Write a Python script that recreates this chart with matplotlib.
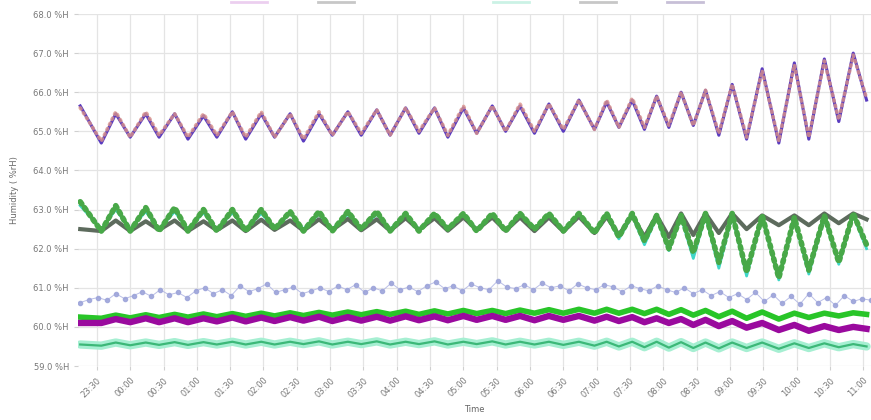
import numpy as np
import pandas as pd
import matplotlib
matplotlib.use("Agg")
import matplotlib.pyplot as plt
from matplotlib.lines import Line2D

# turning points of the daily ventilation cycle, minutes after 23:30
t_key = [-15, 4, 17, 30, 44, 56, 70, 82, 96, 108, 122, 134, 148, 160, 174, 186, 200,
         212, 226, 238, 252, 264, 278, 290, 304, 316, 330, 342, 356, 368, 381, 394, 407,
         420, 434, 448, 459, 470, 482, 493, 504, 515, 526, 537, 548, 560, 572, 585, 599,
         614, 628, 641, 655, 668, 681, 693]

top_line = [65.65, 64.70, 65.45, 64.85, 65.45, 64.85, 65.45, 64.80, 65.40, 64.85, 65.50,
            64.80, 65.45, 64.85, 65.45, 64.75, 65.45, 64.90, 65.50, 64.90, 65.55, 64.90,
            65.60, 64.95, 65.60, 64.85, 65.60, 64.95, 65.65, 65.00, 65.65, 64.95, 65.70,
            65.00, 65.80, 65.05, 65.75, 65.10, 65.80, 65.05, 65.90, 65.10, 66.00, 65.15,
            66.05, 64.90, 66.20, 64.80, 66.60, 64.70, 66.75, 64.80, 66.85, 65.25, 67.00, 65.80]
top_dots = [65.60, 64.75, 65.50, 64.85, 65.50, 64.90, 65.45, 64.85, 65.45, 64.90, 65.50,
            64.85, 65.50, 64.85, 65.45, 64.80, 65.50, 64.90, 65.50, 64.95, 65.55, 64.90,
            65.60, 65.00, 65.60, 64.90, 65.65, 64.95, 65.65, 65.00, 65.70, 65.00, 65.70,
            65.05, 65.80, 65.05, 65.80, 65.10, 65.85, 65.10, 65.90, 65.15, 66.00, 65.15,
            66.05, 64.95, 66.20, 64.85, 66.55, 64.75, 66.70, 64.85, 66.80, 65.30, 66.95, 65.85]

mid_gray = [62.50, 62.45, 62.72, 62.45, 62.70, 62.48, 62.72, 62.45, 62.70, 62.47, 62.72,
            62.45, 62.74, 62.48, 62.72, 62.46, 62.75, 62.48, 62.76, 62.47, 62.75, 62.46,
            62.78, 62.48, 62.78, 62.46, 62.80, 62.48, 62.80, 62.46, 62.80, 62.45, 62.80,
            62.44, 62.82, 62.40, 62.82, 62.35, 62.85, 62.30, 62.85, 62.30, 62.90, 62.35,
            62.90, 62.40, 62.90, 62.50, 62.85, 62.60, 62.85, 62.60, 62.90, 62.65, 62.90, 62.75]
mid_green = [63.20, 62.45, 63.10, 62.45, 63.05, 62.45, 63.05, 62.45, 63.00, 62.45, 63.00,
             62.45, 63.00, 62.50, 62.95, 62.45, 62.95, 62.45, 62.95, 62.50, 62.95, 62.45,
             62.90, 62.45, 62.90, 62.50, 62.90, 62.45, 62.90, 62.45, 62.90, 62.50, 62.90,
             62.45, 62.90, 62.40, 62.90, 62.30, 62.90, 62.20, 62.85, 62.00, 62.85, 61.90,
             62.90, 61.65, 62.90, 61.40, 62.85, 61.25, 62.80, 61.45, 62.85, 61.65, 62.90, 62.10]
mid_teal = [63.10, 62.50, 63.00, 62.50, 62.95, 62.50, 62.95, 62.50, 62.92, 62.50, 62.92,
            62.50, 62.90, 62.52, 62.90, 62.50, 62.88, 62.50, 62.88, 62.52, 62.88, 62.50,
            62.85, 62.50, 62.85, 62.50, 62.85, 62.50, 62.85, 62.48, 62.85, 62.50, 62.85,
            62.48, 62.85, 62.40, 62.85, 62.25, 62.85, 62.10, 62.80, 61.95, 62.80, 61.75,
            62.85, 61.50, 62.85, 61.30, 62.80, 61.20, 62.75, 61.35, 62.80, 61.60, 62.85, 62.00]

magenta = [60.10, 60.10, 60.20, 60.12, 60.22, 60.12, 60.22, 60.12, 60.22, 60.14, 60.24,
           60.14, 60.24, 60.15, 60.25, 60.16, 60.26, 60.15, 60.25, 60.16, 60.26, 60.16,
           60.27, 60.17, 60.27, 60.17, 60.28, 60.18, 60.28, 60.18, 60.28, 60.17, 60.28,
           60.18, 60.28, 60.16, 60.26, 60.15, 60.25, 60.12, 60.22, 60.10, 60.20, 60.05,
           60.18, 60.02, 60.15, 59.98, 60.10, 59.92, 60.05, 59.90, 60.02, 59.92, 60.00, 59.95]
lime = [60.25, 60.22, 60.30, 60.23, 60.31, 60.24, 60.32, 60.25, 60.33, 60.26, 60.34,
        60.27, 60.35, 60.28, 60.36, 60.29, 60.37, 60.30, 60.38, 60.31, 60.39, 60.32,
        60.40, 60.32, 60.41, 60.33, 60.42, 60.34, 60.42, 60.34, 60.43, 60.35, 60.44,
        60.35, 60.45, 60.35, 60.45, 60.35, 60.45, 60.34, 60.45, 60.32, 60.44, 60.30,
        60.42, 60.26, 60.40, 60.22, 60.38, 60.20, 60.35, 60.24, 60.35, 60.28, 60.36, 60.32]
mint = [59.55, 59.52, 59.60, 59.53, 59.60, 59.54, 59.61, 59.54, 59.61, 59.55, 59.62,
        59.55, 59.62, 59.55, 59.62, 59.56, 59.63, 59.55, 59.62, 59.56, 59.63, 59.55,
        59.62, 59.56, 59.63, 59.55, 59.62, 59.56, 59.63, 59.55, 59.62, 59.55, 59.62,
        59.54, 59.62, 59.52, 59.62, 59.50, 59.62, 59.48, 59.62, 59.47, 59.61, 59.46,
        59.60, 59.45, 59.60, 59.46, 59.60, 59.44, 59.58, 59.46, 59.58, 59.48, 59.56, 59.50]

# noisy sensor, one sample every 8 min
lavender = [60.62, 60.70, 60.75, 60.68, 60.85, 60.72, 60.80, 60.90, 60.78, 60.95,
            60.82, 60.88, 60.75, 60.92, 61.00, 60.85, 60.95, 60.80, 61.05, 60.90,
            60.98, 61.10, 60.88, 60.95, 61.02, 60.85, 60.92, 61.00, 60.90, 61.05,
            60.95, 61.08, 60.88, 61.00, 60.92, 61.12, 60.95, 61.02, 60.90, 61.05,
            61.15, 60.98, 61.05, 60.92, 61.10, 61.00, 60.95, 61.18, 61.02, 60.98,
            61.08, 60.95, 61.12, 61.00, 61.05, 60.92, 61.10, 61.00, 60.95, 61.08,
            61.02, 60.90, 61.05, 60.98, 60.92, 61.05, 60.95, 60.88, 61.00, 60.85,
            60.95, 60.80, 60.90, 60.75, 60.85, 60.70, 60.88, 60.65, 60.82, 60.60,
            60.78, 60.58, 60.85, 60.62, 60.75, 60.55, 60.80, 60.65, 60.72, 60.68]

tick_labels = ["23:30", "00:00", "00:30", "01:00", "01:30", "02:00", "02:30", "03:00",
               "03:30", "04:00", "04:30", "05:00", "05:30", "06:00", "06:30", "07:00",
               "07:30", "08:00", "08:30", "09:00", "09:30", "10:00", "10:30", "11:00"]

base = pd.Timestamp("2024-03-01 23:30")
tk = base + pd.to_timedelta(t_key, unit="min")
tl = pd.date_range(base - pd.Timedelta(minutes=15), periods=len(lavender), freq="8min")

fig = plt.figure(figsize=(8.71, 4.2), dpi=100)
ax = fig.add_axes([78 / 871, 1 - 366 / 420, 1 - 78 / 871, 352 / 420])

ax.plot(tl, lavender, color="#b3b8e4", lw=0.7, marker="o", ms=3.0, mfc="#9ea5da",
        mec="#9ea5da", alpha=0.9)
ax.plot(tk, mint, color="#a6efd2", lw=6, solid_capstyle="round", solid_joinstyle="round")
ax.plot(tk, mint, color="#3cb878", lw=1.6, solid_joinstyle="round")
ax.plot(tk, lime, color="#28c528", lw=4.0, solid_joinstyle="round")
ax.plot(tk, magenta, color="#9a0a9e", lw=4.6, solid_joinstyle="round")

ax.plot(tk, mid_teal, color="#3fd6c8", lw=2.0, solid_joinstyle="round")
ax.plot(tk, mid_gray, color="#5d6b5d", lw=3.0, solid_joinstyle="round")
ax.plot(tk, mid_green, color="#48a848", lw=4.0, ls=(0, (0.5, 0.8)), dash_capstyle="round")

ax.plot(tk, top_line, color="#5a3cc0", lw=2.2, solid_joinstyle="round")
ax.plot(tk, top_dots, color="#d9918a", lw=2.6, ls=(0, (0.4, 1.2)), dash_capstyle="round",
        alpha=0.8)

ax.set_ylim(59, 68)
ax.set_xlim(base - pd.Timedelta(minutes=17), base + pd.Timedelta(minutes=697))
ax.set_yticks(np.arange(59, 68.5, 1.0))
ax.set_yticklabels([f"{v:.1f} %H" for v in np.arange(59, 68.5, 1.0)])
ax.set_xticks([base + pd.Timedelta(minutes=30 * i) for i in range(len(tick_labels))])
ax.set_xticklabels(tick_labels, rotation=45, ha="right", rotation_mode="anchor")

ax.grid(True, color="#e4e4e4", lw=0.9)
ax.set_axisbelow(True)
for s in ax.spines.values():
    s.set_visible(False)
ax.tick_params(axis="both", colors="#d0d0d0", labelcolor="#777777", labelsize=6, length=3)
ax.tick_params(axis="x", pad=4)

ax.set_ylabel("Humidity ( %rH)", fontsize=6, color="#666666", labelpad=10)
ax.set_xlabel("Time", fontsize=6, color="#666666", labelpad=4)

# legend is clipped at the top edge, only the line handles show
handles = [Line2D([], [], color=c, lw=2, alpha=0.5)
           for c in ["#d9a0e0", "#909090", "#ffffff", "#98e6cc", "#909090", "#9080b0"]]
fig.legend(handles, [""] * 6, ncol=6, loc="center", bbox_to_anchor=(471.5 / 871, 1 - 3 / 420),
           frameon=False, fontsize=8, handlelength=3.25, handletextpad=0.8,
           columnspacing=3.8, borderpad=0)

fig.savefig("out.png", dpi=100)
